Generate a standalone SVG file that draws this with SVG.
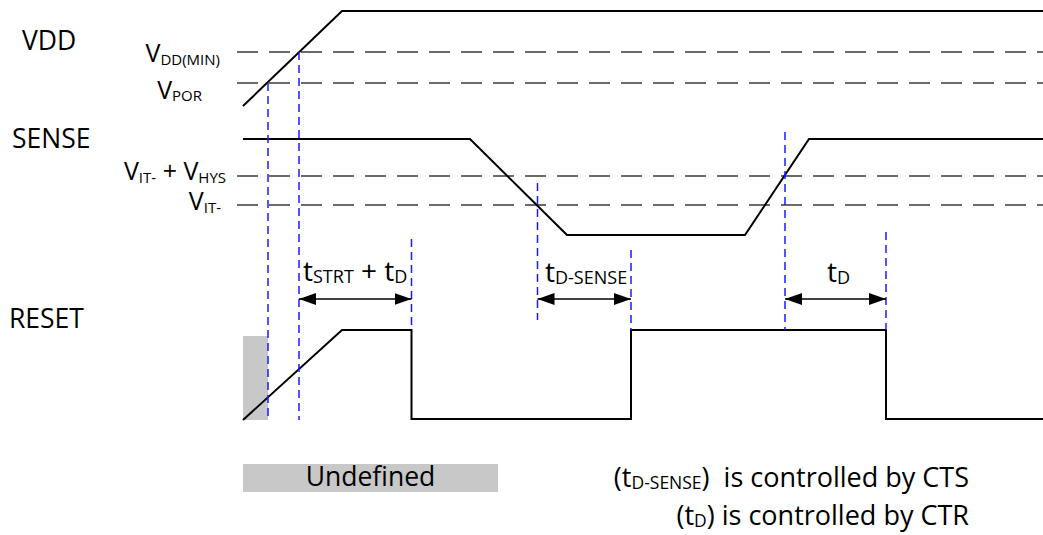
<svg xmlns="http://www.w3.org/2000/svg" width="1043" height="535" viewBox="0 0 1043 535">
<style>
text{font-family:"Open Sans","Liberation Sans",sans-serif;fill:#000}
.big{font-size:26.5px}
.lvl{font-size:25px}
.sub{font-size:15px}
.tl{font-size:28px}
.ts{font-size:18px}
.leg{font-size:27px;white-space:pre}
.legs{font-size:17.5px}
.wave{fill:none;stroke:#000;stroke-width:2;stroke-linejoin:miter}
.thr{fill:none;stroke:#3a3a3a;stroke-width:1.6;stroke-dasharray:21 11}
.mk{fill:none;stroke:#1a1aff;stroke-width:1.5;stroke-dasharray:8 5}
.arr{fill:none;stroke:#000;stroke-width:1.5;marker-start:url(#ah);marker-end:url(#ah)}
.und{fill:#c8c8c8}
</style>
<defs>
<marker id="ah" markerUnits="userSpaceOnUse" markerWidth="18" markerHeight="14" refX="17" refY="6" orient="auto-start-reverse">
<path d="M0,0 L17,6 L0,12 Z" fill="#000"/>
</marker>
</defs>
<g id="undefined-region">
<rect class="und" x="243" y="336" width="25" height="84"/>
</g>
<g id="signal-labels">
<text id="lbl-vdd" class="big" x="22" y="50">VDD</text>
<text id="lbl-sense" class="big" x="12" y="148">SENSE</text>
<text id="lbl-reset" class="big" x="9" y="328">RESET</text>
</g>
<g id="level-labels">
<text class="lvl" x="220" y="62" text-anchor="end">V<tspan class="sub" dy="3">DD(MIN)</tspan></text>
<text class="lvl" x="202" y="99" text-anchor="end">V<tspan class="sub" dy="2">POR</tspan></text>
<text class="lvl" x="226" y="180" text-anchor="end">V<tspan class="sub" dy="3">IT-</tspan><tspan dy="-3"> + V</tspan><tspan class="sub" dy="3">HYS</tspan></text>
<text class="lvl" x="221" y="210" text-anchor="end">V<tspan class="sub" dy="3">IT-</tspan></text>
</g>
<g id="thresholds">
<line class="thr" x1="237" y1="52" x2="1043" y2="52"/>
<line class="thr" x1="237" y1="83" x2="1043" y2="83"/>
<line class="thr" x1="237" y1="176" x2="1043" y2="176"/>
<line class="thr" x1="237" y1="205" x2="1043" y2="205"/>
</g>
<g id="waveforms">
<path id="wave-vdd" class="wave" d="M243,106 L342,11 L1043,11"/>
<path id="wave-sense" class="wave" d="M243,139 L470,139 L567,235 L745,235 L809,139 L1043,139"/>
<path id="wave-reset" class="wave" d="M243,420 L342,330 L411.5,330 L411.5,419 L631,419 L631,330 L886,330 L886,419 L1043,419"/>
</g>
<g id="markers">
<line class="mk" x1="268" y1="83" x2="268" y2="420"/>
<line class="mk" x1="299" y1="52" x2="299" y2="420"/>
<line class="mk" x1="411.5" y1="239" x2="411.5" y2="330"/>
<line class="mk" x1="537.5" y1="183" x2="537.5" y2="320"/>
<line class="mk" x1="631" y1="250" x2="631" y2="330"/>
<line class="mk" x1="785" y1="132" x2="785" y2="330"/>
<line class="mk" x1="886" y1="232" x2="886" y2="330"/>
</g>
<g id="connectors">
<line class="arr" x1="299" y1="299" x2="411.5" y2="299"/>
<line class="arr" x1="537.5" y1="299" x2="631" y2="299"/>
<line class="arr" x1="785" y1="299" x2="886" y2="299"/>
</g>
<g id="timing-labels">
<text class="tl" x="303" y="281">t<tspan class="ts" dy="2">STRT</tspan><tspan dy="-2"> + t</tspan><tspan class="ts" dy="2">D</tspan></text>
<text class="tl" x="545" y="282">t<tspan class="ts" dy="2">D-SENSE</tspan></text>
<text class="tl" x="827" y="282">t<tspan class="ts" dy="2">D</tspan></text>
</g>
<g id="legend">
<rect class="und" x="243" y="464" width="255" height="28"/>
<text class="big" x="370.5" y="486" text-anchor="middle">Undefined</text>
<text class="leg" x="969" y="487" text-anchor="end" xml:space="preserve">(t<tspan class="legs" dy="2">D-SENSE</tspan><tspan dy="-2">)  is controlled by CTS</tspan></text>
<text class="leg" x="969" y="525" text-anchor="end">(t<tspan class="legs" dy="2">D</tspan><tspan dy="-2">) is controlled by CTR</tspan></text>
</g>
</svg>
